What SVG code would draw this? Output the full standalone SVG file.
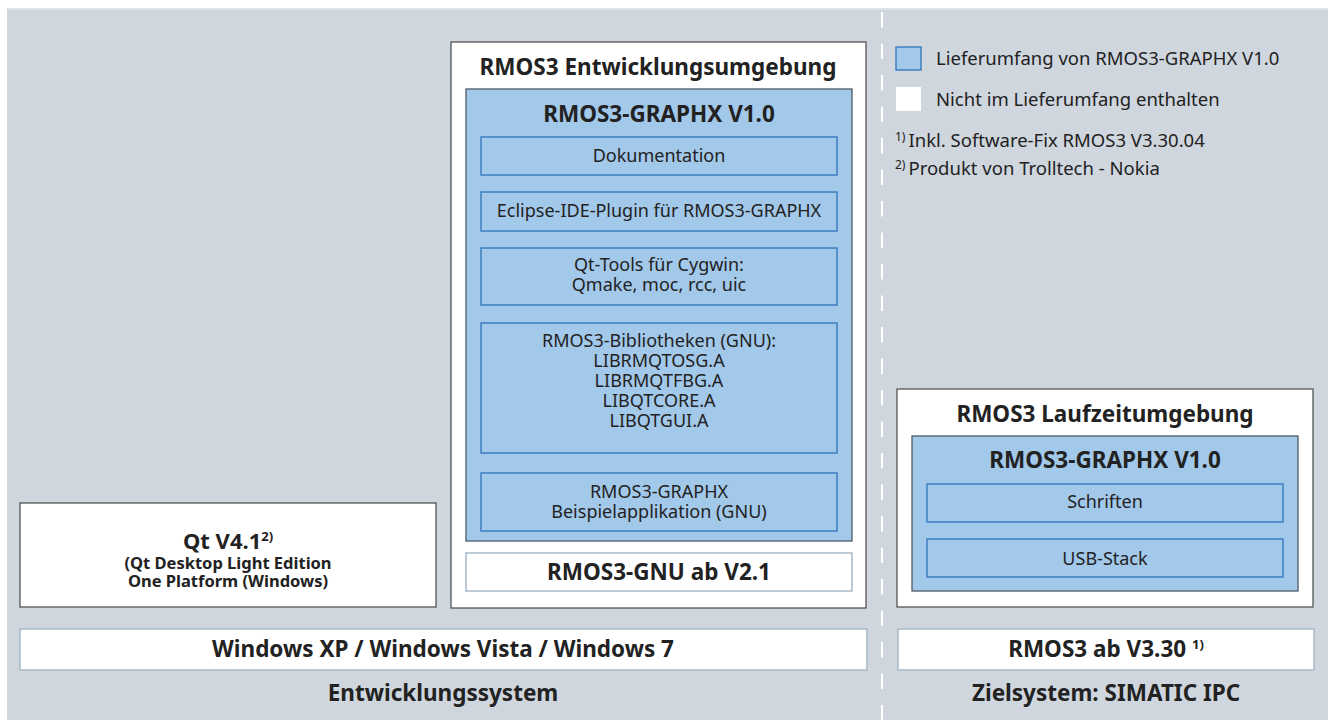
<svg xmlns="http://www.w3.org/2000/svg" width="1328" height="720" viewBox="0 0 1328 720">
<style>
text{font-family:"Noto Sans","Open Sans",sans-serif;fill:#222;text-anchor:middle}
.b{font-weight:bold}
.t{font-size:22.5px;font-weight:bold}
.s{font-size:18px}
.l{font-size:18.5px;text-anchor:start}
.wbox{fill:#fff;stroke:#555;stroke-width:1.3}
.bbox{fill:#a2c8ea;stroke:#4d5a66;stroke-width:1.3}
.sub{fill:#a2c8ea;stroke:#2f74ba;stroke-width:1.3}
.bar{fill:#fff;stroke:#a7b9c8;stroke-width:1.5}
</style>
<rect x="7" y="8" width="1321" height="712" fill="#cfd6de"/>
<rect x="7" y="8" width="1321" height="2" fill="#dde2e7"/>
<g id="connectors">
<line x1="882" y1="12" x2="882" y2="720" stroke="#fff" stroke-width="2" stroke-dasharray="15.5 16"/>
</g>
<g id="legend">
<rect x="896" y="47" width="25" height="23" fill="#a2c8ea" stroke="#2f74ba" stroke-width="1.3"/>
<text class="l" x="936" y="65">Lieferumfang von RMOS3-GRAPHX V1.0</text>
<rect x="896" y="87" width="25" height="24" fill="#fff"/>
<text class="l" x="936" y="106">Nicht im Lieferumfang enthalten</text>
<text class="l" x="895" y="147"><tspan font-size="12" dy="-6">1)</tspan><tspan dy="6" dx="3">Inkl. Software-Fix RMOS3 V3.30.04</tspan></text>
<text class="l" x="895" y="175"><tspan font-size="12" dy="-6">2)</tspan><tspan dy="6" dx="3">Produkt von Trolltech - Nokia</tspan></text>
</g>
<g id="entwicklungsumgebung">
<rect class="wbox" x="451" y="42" width="415" height="566"/>
<text class="t" x="658" y="75">RMOS3 Entwicklungsumgebung</text>
</g>
<g id="graphx-dev">
<rect class="bbox" x="466" y="89" width="386" height="452"/>
<text class="t" x="659" y="122">RMOS3-GRAPHX V1.0</text>
</g>
<g id="dokumentation">
<rect class="sub" x="481" y="137" width="356" height="38"/>
<text class="s" x="659" y="162">Dokumentation</text>
</g>
<g id="eclipse">
<rect class="sub" x="481" y="192" width="356" height="39"/>
<text class="s" x="659" y="217">Eclipse-IDE-Plugin für RMOS3-GRAPHX</text>
</g>
<g id="qt-tools">
<rect class="sub" x="481" y="248" width="356" height="57"/>
<text class="s" x="659" y="271">Qt-Tools für Cygwin:</text>
<text class="s" x="659" y="291">Qmake, moc, rcc, uic</text>
</g>
<g id="bibliotheken">
<rect class="sub" x="481" y="323" width="356" height="130"/>
<text class="s" x="659" y="347">RMOS3-Bibliotheken (GNU):</text>
<text class="s" x="659" y="367">LIBRMQTOSG.A</text>
<text class="s" x="659" y="387">LIBRMQTFBG.A</text>
<text class="s" x="659" y="407">LIBQTCORE.A</text>
<text class="s" x="659" y="427">LIBQTGUI.A</text>
</g>
<g id="beispiel">
<rect class="sub" x="481" y="473" width="356" height="58"/>
<text class="s" x="659" y="498">RMOS3-GRAPHX</text>
<text class="s" x="659" y="518">Beispielapplikation (GNU)</text>
</g>
<g id="gnu">
<rect class="bar" x="466" y="553" width="386" height="38"/>
<text class="t" x="659" y="580" font-size="21.5">RMOS3-GNU ab V2.1</text>
</g>
<g id="qt">
<rect class="wbox" x="20" y="503" width="416" height="104"/>
<text class="b" x="228" y="549" font-size="22">Qt V4.1<tspan font-size="13" dy="-8">2)</tspan></text>
<text class="b" x="228" y="569" font-size="16.5">(Qt Desktop Light Edition</text>
<text class="b" x="228" y="587" font-size="16.5">One Platform (Windows)</text>
</g>
<g id="laufzeitumgebung">
<rect class="wbox" x="897" y="389" width="416" height="218"/>
<text class="t" x="1105" y="422">RMOS3 Laufzeitumgebung</text>
</g>
<g id="graphx-rt">
<rect class="bbox" x="912" y="436" width="386" height="155"/>
<text class="t" x="1105" y="468">RMOS3-GRAPHX V1.0</text>
</g>
<g id="schriften">
<rect class="sub" x="927" y="484" width="356" height="38"/>
<text class="s" x="1105" y="508">Schriften</text>
</g>
<g id="usb">
<rect class="sub" x="927" y="539" width="356" height="38"/>
<text class="s" x="1105" y="565">USB-Stack</text>
</g>
<g id="windows">
<rect class="bar" x="20" y="629" width="847" height="41"/>
<text class="t" x="443" y="657" font-size="22">Windows XP / Windows Vista / Windows 7</text>
</g>
<g id="rmos3">
<rect class="bar" x="898" y="629" width="416" height="41"/>
<text class="t" x="1106" y="657" font-size="22">RMOS3 ab V3.30 <tspan font-size="13" dy="-8">1)</tspan></text>
</g>
<g id="labels">
<text class="t" x="443" y="701" font-size="22">Entwicklungssystem</text>
<text class="t" x="1106" y="701" font-size="22">Zielsystem: SIMATIC IPC</text>
</g>
</svg>
